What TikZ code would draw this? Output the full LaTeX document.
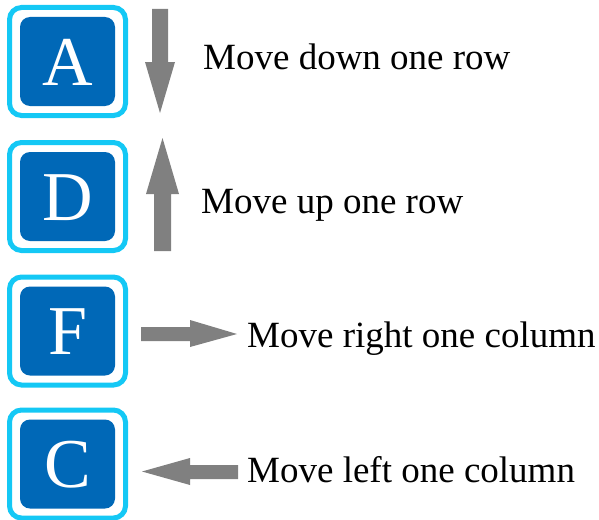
\documentclass[tikz,border=0pt]{standalone}
\usepackage{fontspec}
\setmainfont{Liberation Serif}
\newfontfamily\timesfont{Liberation Serif}
\definecolor{framecyan}{RGB}{20,200,245}
\definecolor{keyblue}{RGB}{0,104,183}
\definecolor{arrowgray}{RGB}{128,128,128}
\tikzset{
  keyframe/.style={draw=framecyan, line width=5pt, fill=white, rounded corners=12pt,
    minimum width=116pt, minimum height=108pt, inner sep=0pt},
  keyface/.style={fill=keyblue, rounded corners=10pt, minimum width=95pt, minimum height=89pt,
    inner sep=0pt, text=white, font=\timesfont\fontsize{70}{70}\selectfont, text height=47pt, text depth=0pt},
  blockarrow/.style={fill=arrowgray},
  caption/.style={anchor=base west, inner sep=0pt, font=\timesfont\fontsize{37}{40}\selectfont}
}
\begin{document}
\begin{tikzpicture}[x=1pt,y=-1pt]
\useasboundingbox (0,0) rectangle (599,519);

% key frames with letters
\node[keyframe] (fA) at (67.5,61.5) {};
\node[keyface]  (kA) at (fA.center) {A};
\node[keyframe] (fD) at (67.5,196.5) {};
\node[keyface]  (kD) at (fD.center) {D};
\node[keyframe] (fF) at (67.5,331) {};
\node[keyface]  (kF) at (fF.center) {F};
\node[keyframe] (fC) at (67.5,464) {};
\node[keyface]  (kC) at (fC.center) {C};

% direction arrows
\fill[blockarrow] (152,9) -- (168,9) -- (168,62) -- (175,62) -- (160,113) -- (145,62) -- (152,62) -- cycle;
\fill[blockarrow] (154,251) -- (171,251) -- (171,194) -- (179,194) -- (162.5,138) -- (146,194) -- (154,194) -- cycle;
\fill[blockarrow] (141,327) -- (190,327) -- (190,320) -- (237,334) -- (190,347) -- (190,341) -- (141,341) -- cycle;
\fill[blockarrow] (238,465) -- (190,465) -- (190,458) -- (142,471.5) -- (190,485) -- (190,479) -- (238,479) -- cycle;

% captions
\node[caption] (tA) at (203,69)  {Move down one row};
\node[caption] (tD) at (201,213) {Move up one row};
\node[caption] (tF) at (247,347) {Move right one column};
\node[caption] (tC) at (247,482) {Move left one column};
\end{tikzpicture}
\end{document}
